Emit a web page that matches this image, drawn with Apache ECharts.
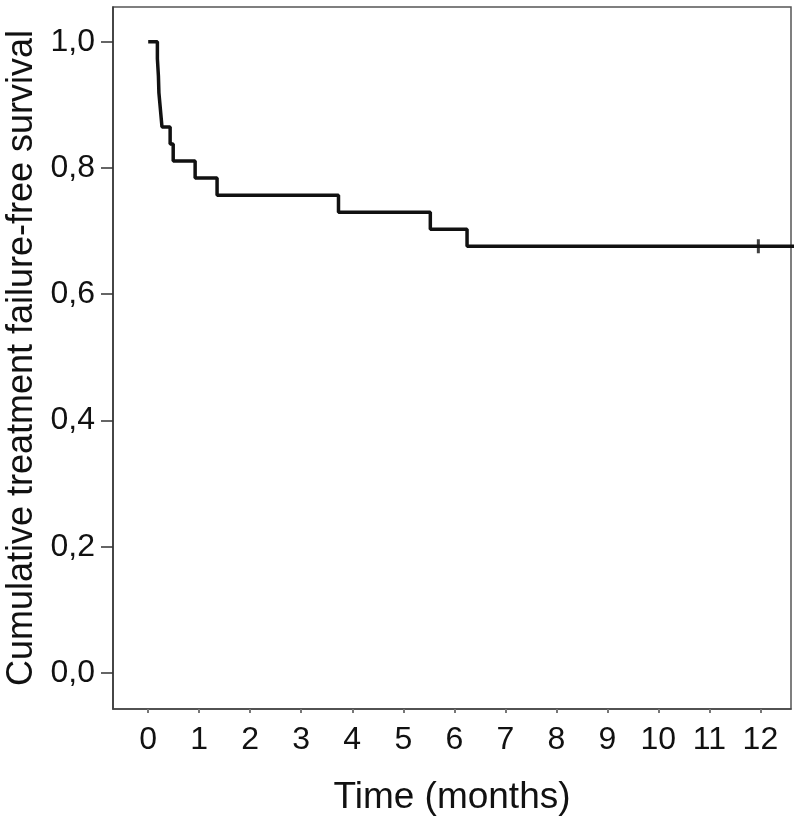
<!DOCTYPE html>
<html>
<head>
<meta charset="utf-8">
<script src="https://cdn.jsdelivr.net/npm/echarts@6/dist/echarts.min.js"></script>
<style>
  html, body { margin: 0; padding: 0; background: #fff; }
  #chart { width: 798px; height: 820px; }
</style>
</head>
<body>
<div id="chart"></div>
<script>
// Kaplan-Meier steps (months, survival)
const eventTimes = [0, 0.18, 0.20, 0.21, 0.24, 0.27, 0.43, 0.49, 0.92, 1.35, 3.73, 5.53, 6.25, 12.9];
const survival   = [1.0, 0.973, 0.946, 0.919, 0.892, 0.865, 0.838, 0.811, 0.784, 0.757, 0.730, 0.703, 0.676, 0.676];
const censorTimes = [11.96];
const censorSurv  = [0.676];
const xTicks = [0, 1, 2, 3, 4, 5, 6, 7, 8, 9, 10, 11, 12];
const yTicks = [0, 0.2, 0.4, 0.6, 0.8, 1.0];

const chart = echarts.init(document.getElementById('chart'));

const kmData = eventTimes.map((t, i) => [t, survival[i]]);
const censorData = censorTimes.map((t, i) => [t, censorSurv[i]]);

const labelFont = { fontFamily: 'Liberation Sans, Arial, sans-serif', color: '#111' };

chart.setOption({
    backgroundColor: '#fff',
    animation: false,
    grid: {
        left: 113, right: 7, top: 7, bottom: 111,
        outerBoundsMode: 'none',
        show: true, borderColor: '#555', borderWidth: 1.5, backgroundColor: 'transparent'
    },
    xAxis: {
        type: 'value',
        min: -0.69, max: 12.6,
        name: 'Time (months)',
        nameLocation: 'middle',
        nameGap: 70,
        nameTextStyle: { ...labelFont, fontSize: 37 },
        axisLine: { show: true, onZero: false, lineStyle: { color: '#444', width: 1.5 } },
        axisTick: { show: true, length: 4, customValues: xTicks, lineStyle: { color: '#777', width: 2 } },
        axisLabel: { customValues: xTicks, margin: 15, fontSize: 32, ...labelFont },
        splitLine: { show: false }
    },
    yAxis: {
        type: 'value',
        min: -0.057, max: 1.055,
        name: 'Cumulative treatment failure-free survival',
        nameLocation: 'middle',
        nameGap: 68,
        nameTextStyle: { ...labelFont, fontSize: 36 },
        axisLine: { show: true, onZero: false, lineStyle: { color: '#333', width: 1.5 } },
        axisTick: { show: true, length: 12, customValues: yTicks, lineStyle: { color: '#333', width: 1.5 } },
        axisLabel: {
            customValues: yTicks, margin: 18, fontSize: 32, ...labelFont,
            formatter: v => v.toFixed(1).replace('.', ',')
        },
        splitLine: { show: false }
    },
    series: [
        {
            type: 'line',
            step: 'end',
            data: kmData,
            symbol: 'none',
            clip: true,
            lineStyle: { color: '#111', width: 3.5 }
        },
        {
            type: 'scatter',
            data: censorData,
            symbol: 'rect',
            symbolSize: [3, 14],
            itemStyle: { color: '#111' }
        }
    ]
});
</script>
</body>
</html>
